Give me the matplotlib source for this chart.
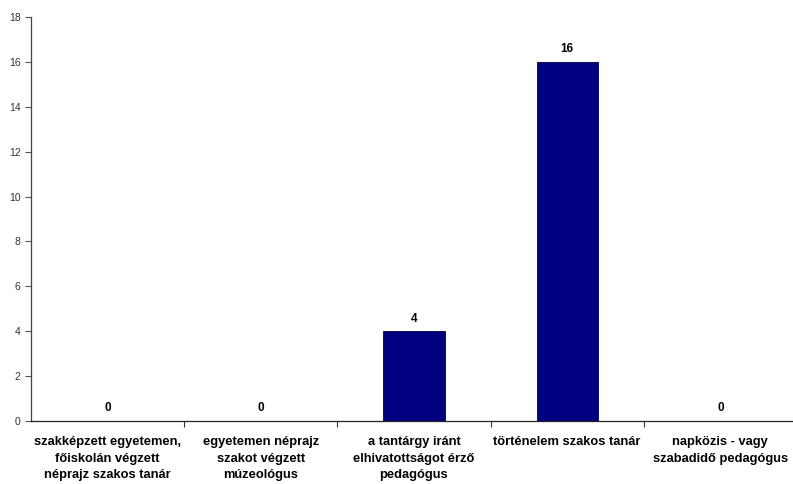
import matplotlib
matplotlib.use("Agg")
import matplotlib.pyplot as plt
import numpy as np

# chart data
categories = [
    "szakképzett egyetemen,\nfőiskolán végzett\nnéprajz szakos tanár",
    "egyetemen néprajz\nszakot végzett\nmúzeológus",
    "a tantárgy iránt\nelhivatottságot érző\npedagógus",
    "történelem szakos tanár",
    "napközis - vagy\nszabadidő pedagógus",
]
values = [0, 0, 4, 16, 0]
yticks = [0, 2, 4, 6, 8, 10, 12, 14, 16, 18]

plt.rcParams['font.family'] = ['Liberation Sans', 'DejaVu Sans']

fig = plt.figure(figsize=(7.93, 4.84), dpi=100)
ax = fig.add_axes([0.039, 0.130, 0.966, 0.835])

x = np.arange(len(categories))
ax.bar(x, values, width=0.4, color="#000080", edgecolor="#000040", linewidth=0.6, zorder=2)

# value labels above bars
for xi, v in zip(x, values):
    ax.text(xi, v + 0.3, str(v), ha="center", va="bottom",
            fontsize=8.5, fontweight="bold", color="black")

ax.set_xlim(-0.5, len(categories) - 0.5)
ax.set_ylim(0, 18)
ax.set_yticks(yticks)
ax.tick_params(axis="y", labelsize=7.5, labelcolor="#333333", length=4,
               direction="out", width=0.8, color="#555555")

# boundary ticks (major) and category labels (minor)
ax.set_xticks(np.arange(0.5, len(categories) - 0.5, 1.0))
ax.set_xticklabels([])
ax.tick_params(axis="x", which="major", length=4, width=0.8, color="#333333")
ax.set_xticks(x, minor=True)
ax.set_xticklabels(categories, minor=True, fontsize=9.3, fontweight="bold",
                   linespacing=1.5, va="top")
ax.tick_params(axis="x", which="minor", length=0, pad=11)

for s in ["top", "right"]:
    ax.spines[s].set_visible(False)
ax.spines["left"].set_color("#444444")
ax.spines["bottom"].set_color("#222222")
ax.spines["left"].set_linewidth(0.9)
ax.spines["bottom"].set_linewidth(0.9)

fig.savefig("out.png", dpi=100)
